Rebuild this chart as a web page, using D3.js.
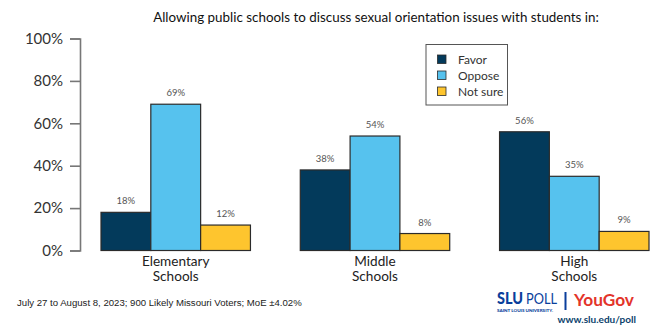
<!DOCTYPE html>
<html>
<head>
<meta charset="utf-8">
<script src="https://cdn.jsdelivr.net/npm/d3@7"></script>
<style>
  html, body { margin: 0; padding: 0; background: #fff; }
  svg { display: block; }
</style>
</head>
<body>
<svg id="chart" width="650" height="326"></svg>
<script>
// Survey results by school level
const categories = [["Elementary", "Schools"], ["Middle", "Schools"], ["High", "Schools"]];
const series = ["Favor", "Oppose", "Not sure"];
const favor = [18, 38, 56];
const oppose = [69, 54, 35];
const notSure = [12, 8, 9];
const yTicks = [0, 20, 40, 60, 80, 100];

const colors = ["#033a5b", "#56c2ee", "#fec52e"];
const values = [favor, oppose, notSure];

const svg = d3.select("#chart");
const font = "Lato, 'Open Sans', sans-serif";

const y = d3.scaleLinear().domain([0, 100]).range([250.5, 38.5]);
const x0 = d3.scaleBand()
  .domain(categories.map(c => c.join(" ")))
  .range([101, 649])
  .paddingInner(0.25)
  .paddingOuter(0);
const x1 = d3.scaleBand().domain(series).range([0, x0.bandwidth()]).padding(0);

// Title
svg.append("text")
  .attr("x", 376).attr("y", 22)
  .attr("text-anchor", "middle")
  .attr("font-family", font)
  .attr("font-size", 13.4)
  .attr("fill", "#111")
  .text("Allowing public schools to discuss sexual orientation issues with students in:");

// Y axis
const yAxis = d3.axisLeft(y)
  .tickValues(yTicks)
  .tickFormat(d => d + "%")
  .tickSize(10)
  .tickSizeOuter(10)
  .tickPadding(7);
const ga = svg.append("g").attr("transform", "translate(80,0)").call(yAxis);
ga.select(".domain").attr("stroke", "#777").attr("stroke-width", 1.6);
ga.selectAll(".tick line").attr("stroke", "#777").attr("stroke-width", 1.6);
ga.selectAll(".tick text")
  .attr("font-family", font)
  .attr("font-size", 15)
  .attr("fill", "#333");

// Bars
const groups = svg.append("g").selectAll("g")
  .data(categories)
  .join("g")
  .attr("transform", c => `translate(${x0(c.join(" "))},0)`);

groups.each(function(c, ci) {
  const g = d3.select(this);
  series.forEach((s, si) => {
    const v = values[si][ci];
    g.append("rect")
      .attr("x", x1(s))
      .attr("y", y(v))
      .attr("width", x1.bandwidth())
      .attr("height", y(0) - y(v))
      .attr("fill", colors[si])
      .attr("stroke", "#2b2b2b")
      .attr("stroke-width", 1.2);
    g.append("text")
      .attr("x", x1(s) + x1.bandwidth() / 2)
      .attr("y", y(v) - 8)
      .attr("text-anchor", "middle")
      .attr("font-family", font)
      .attr("font-size", 9.5)
      .attr("fill", "#555")
      .text(v + "%");
  });
  // Two-line category label under each group
  c.forEach((line, li) => {
    g.append("text")
      .attr("x", x0.bandwidth() / 2)
      .attr("y", 265.5 + li * 15.5)
      .attr("text-anchor", "middle")
      .attr("font-family", font)
      .attr("font-size", 13.6)
      .attr("fill", "#222")
      .text(line);
  });
});

// Legend
const lg = svg.append("g");
lg.append("rect")
  .attr("x", 426).attr("y", 44.5)
  .attr("width", 81.5).attr("height", 60.5)
  .attr("fill", "#fff")
  .attr("stroke", "#555")
  .attr("stroke-width", 1);
series.forEach((s, i) => {
  const ry = 55 + i * 16;
  lg.append("rect")
    .attr("x", 437.5).attr("y", ry)
    .attr("width", 8.5).attr("height", 8.5)
    .attr("fill", colors[i])
    .attr("stroke", "#2b2b2b")
    .attr("stroke-width", 0.8);
  lg.append("text")
    .attr("x", 458).attr("y", ry + 8.5)
    .attr("font-family", font)
    .attr("font-size", 12)
    .attr("fill", "#333")
    .text(s);
});

// Footer note
svg.append("text")
  .attr("x", 17).attr("y", 306)
  .attr("font-family", "'Liberation Sans', Arial, sans-serif")
  .attr("font-size", 9.6)
  .attr("fill", "#222")
  .text("July 27 to August 8, 2023; 900 Likely Missouri Voters; MoE \u00b14.02%");

// Logo block
const logo = svg.append("g");
logo.append("text")
  .attr("x", 497).attr("y", 304)
  .attr("font-family", "Lato, sans-serif")
  .attr("font-size", 16)
  .attr("font-weight", 900)
  .attr("fill", "#0a3f9c")
  .attr("textLength", 26)
  .attr("lengthAdjust", "spacingAndGlyphs")
  .text("SLU");
logo.append("text")
  .attr("x", 526).attr("y", 304)
  .attr("font-family", "Lato, sans-serif")
  .attr("font-size", 16)
  .attr("font-weight", 400)
  .attr("fill", "#0a3f9c")
  .attr("textLength", 31)
  .attr("lengthAdjust", "spacingAndGlyphs")
  .text("POLL");
logo.append("text")
  .attr("x", 497).attr("y", 311.5)
  .attr("font-family", "Lato, sans-serif")
  .attr("font-size", 3.8)
  .attr("font-weight", 900)
  .attr("fill", "#0a3f9c")
  .attr("textLength", 56)
  .attr("lengthAdjust", "spacingAndGlyphs")
  .text("SAINT LOUIS UNIVERSITY.");
logo.append("rect")
  .attr("x", 564.5).attr("y", 292)
  .attr("width", 2).attr("height", 18)
  .attr("fill", "#0a3f9c");
logo.append("text")
  .attr("x", 574).attr("y", 306)
  .attr("font-family", "Lato, sans-serif")
  .attr("font-size", 17)
  .attr("font-weight", 700)
  .attr("fill", "#e3342a")
  .attr("textLength", 60)
  .attr("lengthAdjust", "spacingAndGlyphs")
  .text("YouGov");
logo.append("text")
  .attr("x", 636).attr("y", 323)
  .attr("text-anchor", "end")
  .attr("font-family", "Lato, sans-serif")
  .attr("font-size", 10)
  .attr("font-weight", 700)
  .attr("fill", "#0a3f6c")
  .text("www.slu.edu/poll");
</script>
</body>
</html>
